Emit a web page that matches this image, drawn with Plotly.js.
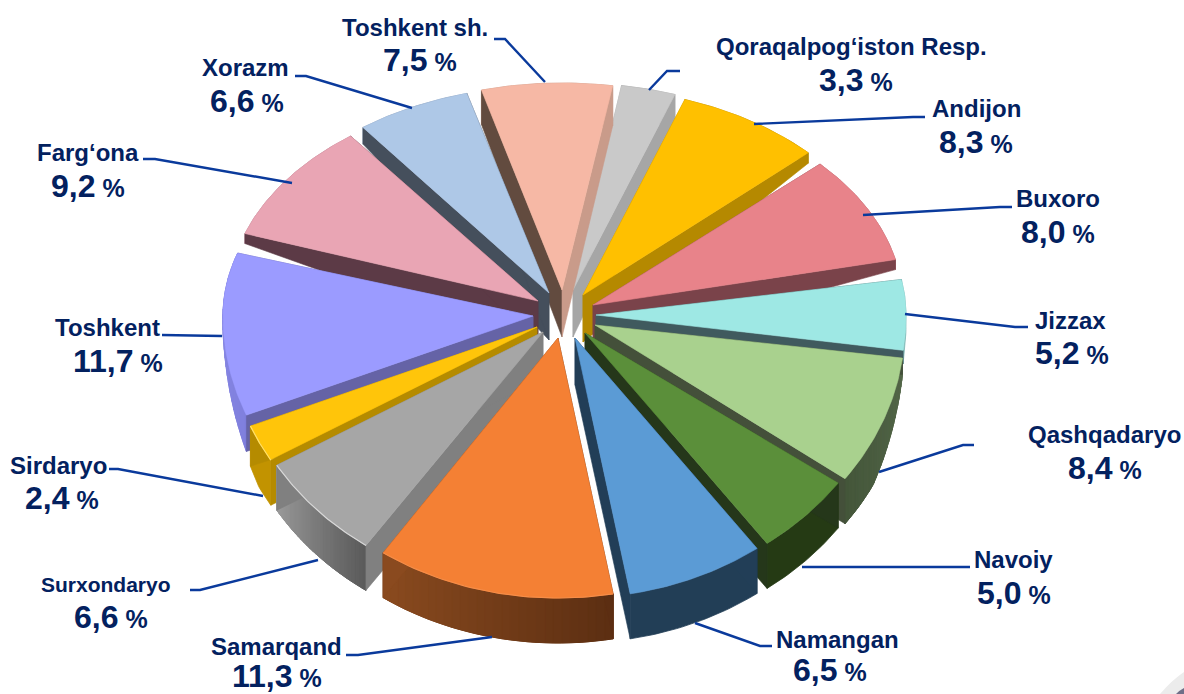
<!DOCTYPE html>
<html>
<head>
<meta charset="utf-8">
<script src="https://cdn.plot.ly/plotly-3.0.1.min.js"></script>
<style>html,body{margin:0;padding:0;background:#fff}#chart{width:1184px;height:694px}</style>
</head>
<body>
<div id="chart"></div>
<script>
// ---------- data ----------
const regions = ["Qoraqalpog‘iston Resp.","Andijon","Buxoro","Jizzax","Qashqadaryo","Navoiy","Namangan","Samarqand","Surxondaryo","Sirdaryo","Toshkent","Farg‘ona","Xorazm","Toshkent sh."];
const shares = [3.3,8.3,8.0,5.2,8.4,5.0,6.5,11.3,6.6,2.4,11.7,9.2,6.6,7.5];

// ---------- styles ----------
const topColors  = ["#c9c9c9","#ffc000","#e8838a","#9ee8e4","#a9d18e","#5b8f3a","#5b9bd5","#f48034","#a6a6a6","#ffc50a","#9b9bff","#e9a5b4","#aec8e7","#f6b8a5"];
const sideStart  = ["#a6a6a6","#b58900","#7a434a","#405a5e","#44503a","#25371a","#223e57","#5c2e12","#808080","#b58b00","#6563a6","#5c3a46","#454f5c","#624b3f"];
const sideEnd    = ["#a6a6a6","#b58900","#7a434a","#405a5e","#44503a","#25371a","#223e57","#8a4a1f","#808080","#b58b00","#6563a6","#5c3a46","#454f5c","#c99b8a"];
const wallStart  = ["#a6a6a6","#b58900","#b0646b","#7fb8b5","#55684a","#253a14","#223e56","#5c2e12","#5a5a5a","#c29300","#7f7fdd","#b98090","#8aa0ba","#c99b8a"];
const wallEnd    = ["#a6a6a6","#b58900","#b0646b","#7fb8b5","#44563a","#253a14","#223e56","#8a4a1f","#9a9a9a","#c29300","#8f8fe8","#b98090","#8aa0ba","#c99b8a"];
const rimColors  = [null,null,null,null,null,null,null,"#f68d48","#d8d8d8","#ffe06a",null,null,null,null];
// position of each slice's apex after the explosion
const apexX = [573,583,593,596,595,585,575,558,543,537,533,538,549,562];
const apexY = [290,295,305,315,325,333,338,338,332,327,316,301,293,290];
// small perspective corrections of each slice's two radial edges, in degrees
const nudgeStart = [0,-1,-1.5,3.5,2,-1,-1,0,2,1.5,1,0,2,1.3];
const nudgeEnd   = [-1,-2,0.7,2.5,0,-1,0,1.5,1.5,1,-1.3,1.7,1,0.4];
const startAngle = 8, radiusX = 310, radiusBack = 207, radiusFront = 260;
const apexDepth = 47, frontDepth = 45, pieMidX = 565;

// label geometry
const nameX  = [851,976,1058,1070,1104,1013,837,276,106,58,107,88,245,415];
const nameY  = [46,108,198,320,434,559,639,646,584,465,327,152,67,27];
const valueX = [856,976,1058,1072,1105,1014,830,277,111,62,118,88,247,420];
const valueY = [80,142,232,353,468,593,670,676,617,498,361,186,101,60];
const nameSize = [24,24,24,24,24,24,24,24,21,24,24,24,24,24];
const leaderX = [[680,667,649],[925,913,754],[1012,1000,863],[1028,1015,905],[974,963,879],[970,802],[772,760,695],[346,358,492],[190,200,318],[109,118,263],[162,222],[143,155,292],[295,306,412],[494,505,545]];
const leaderY = [[71,71,90],[117,117,124],[207,207,215],[327,327,314],[445,445,472],[567,567],[646,646,623],[655,655,637],[590,590,560],[469,469,496],[335,336],[159,159,183],[76,76,108],[39,39,82]];

// ---------- geometry helpers ----------
const rad = d => d * Math.PI / 180;
const warp = t => t + 1.5 + 3.5 * Math.cos(rad(t - 270));
function arcPt(i, t) {
  const c = Math.cos(rad(t));
  return [apexX[i] + radiusX * Math.sin(rad(t)), apexY[i] - (c > 0 ? radiusBack : radiusFront) * c];
}
// wall height at the rim: thin on the flanks and far side, full at the front
function depth(p) {
  const rear = Math.max(10, apexDepth - 0.15 * Math.abs(p[0] - pieMidX));
  const f = Math.min(1, Math.max(0, (p[1] - 340) / 100));
  return rear + (frontDepth - rear) * f;
}
const down = p => [p[0], p[1] + depth(p)];
function hex(c){return [1,3,5].map(k=>parseInt(c.substr(k,2),16));}
function mix(a,b,f){const A=hex(a),B=hex(b);return "rgb("+A.map((v,k)=>Math.round(v+(B[k]-v)*f)).join(",")+")";}
function poly(pts,color,lw){
  return {type:"scatter",mode:"lines",x:pts.map(p=>p[0]),y:pts.map(p=>p[1]),fill:"toself",fillcolor:color,
    line:{color:color,width:lw===undefined?0.6:lw},hoverinfo:"skip",showlegend:false};
}
function wallBand(i,t0,t1,color,lw){
  const up=[],lo=[],n=Math.max(2,Math.ceil(Math.abs(t1-t0)));
  for(let j=0;j<=n;j++){const p=arcPt(i,t0+(t1-t0)*j/n);up.push(p);lo.unshift(down(p));}
  return poly(up.concat(lo,[up[0]]),color,lw);
}

// ---------- slices, painted back to front ----------
const total = shares.reduce((a,b)=>a+b,0);
let cum = 0;
const slices = shares.map((v,i)=>{
  const a = startAngle + cum/total*360; cum += v;
  const b = startAngle + cum/total*360;
  return {i, a:warp(a)+nudgeStart[i], b:warp(b)+nudgeEnd[i]};
});
slices.forEach(s=>{ s.sort = s.i===13||s.i===0 ? -1 : arcPt(s.i,(s.a+s.b)/2)[1]; });
slices.sort((p,q)=>p.sort-q.sort);

const traces = [];
slices.forEach(s=>{
  const i = s.i, A=[apexX[i],apexY[i]], Ad=[A[0],A[1]+apexDepth];
  const pS = arcPt(i,s.a), pE = arcPt(i,s.b);
  // outer wall: solid backing, then shaded strips when it has a gradient
  traces.push(wallBand(i,s.a,s.b,mix(wallStart[i],wallEnd[i],.5),0.8));
  if(wallStart[i]!==wallEnd[i]){
    const nStrip = 28;
    for(let k=0;k<nStrip;k++){
      const t0=s.a+(s.b-s.a)*k/nStrip, t1=s.a+(s.b-s.a)*(k+1)/nStrip;
      traces.push(wallBand(i,t0,t1,mix(wallStart[i],wallEnd[i],(k+.5)/nStrip),1));
    }
  }
  traces.push(poly([A,pS,down(pS),Ad,A],sideStart[i]));
  traces.push(poly([A,pE,down(pE),Ad,A],sideEnd[i]));
  // top face
  const top=[A];
  for(let k=0;k<=60;k++) top.push(arcPt(i,s.a+(s.b-s.a)*k/60));
  top.push(A);
  traces.push(poly(top,topColors[i]));
  if(rimColors[i]){
    const rim=[];
    for(let k=0;k<=40;k++) rim.push(arcPt(i,s.a+(s.b-s.a)*k/40));
    traces.push({type:"scatter",mode:"lines",x:rim.map(p=>p[0]),y:rim.map(p=>p[1]),
      line:{color:rimColors[i],width:1.2},hoverinfo:"skip",showlegend:false});
  }
});

// leader lines
leaderX.forEach((xs,i)=>traces.push({type:"scatter",mode:"lines",x:xs,y:leaderY[i],
  line:{color:"#0a3a9c",width:2.4},hoverinfo:"skip",showlegend:false}));

// labels
const ink = "#03215f", face = "Liberation Sans, Arial, sans-serif";
const annotations = [];
regions.forEach((r,i)=>{
  annotations.push({x:nameX[i],y:nameY[i],text:"<b>"+r+"</b>",showarrow:false,xanchor:"center",yanchor:"middle",
    font:{family:face,size:nameSize[i],color:ink}});
  annotations.push({x:valueX[i],y:valueY[i],showarrow:false,xanchor:"center",yanchor:"middle",
    text:'<b><span style="font-size:32px">'+shares[i].toFixed(1).replace(".",",")+'</span> %</b>',
    font:{family:face,size:25,color:ink}});
});

const axis = {visible:false,fixedrange:true,showgrid:false,zeroline:false};
Plotly.newPlot("chart",traces,{
  width:1184,height:694,margin:{l:0,r:0,t:0,b:0},paper_bgcolor:"#fff",plot_bgcolor:"#fff",showlegend:false,
  xaxis:Object.assign({range:[0,1184]},axis),
  yaxis:Object.assign({range:[694,0]},axis),
  annotations:annotations,
  shapes:[
    {type:"path",path:"M 1160 694 Q 1172 680 1184 672 L 1184 694 Z",fillcolor:"#ececec",line:{width:0},layer:"below"},
    {type:"path",path:"M 1176 694 Q 1180 690 1184 688 L 1184 694 Z",fillcolor:"#6f6f88",line:{width:0},layer:"above"}
  ]
},{displayModeBar:false,staticPlot:true});
</script>
</body>
</html>
